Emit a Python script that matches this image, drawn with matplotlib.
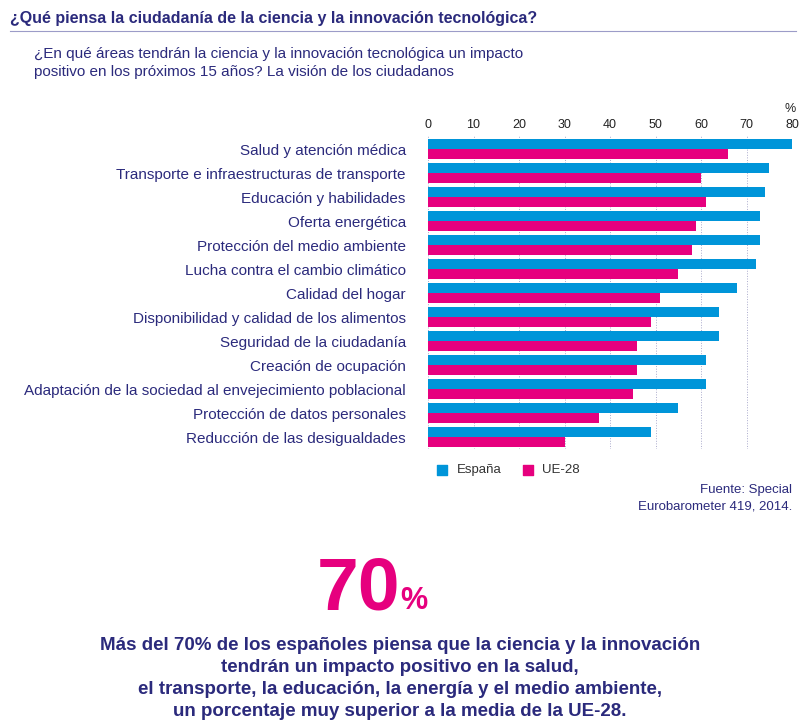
import numpy as np
import matplotlib
matplotlib.use('Agg')
import matplotlib.pyplot as plt

plt.rcParams['font.family'] = ['Liberation Sans', 'DejaVu Sans']

areas = ['Salud y atención médica', 'Transporte e infraestructuras de transporte',
         'Educación y habilidades', 'Oferta energética', 'Protección del medio ambiente',
         'Lucha contra el cambio climático', 'Calidad del hogar',
         'Disponibilidad y calidad de los alimentos', 'Seguridad de la ciudadanía',
         'Creación de ocupación', 'Adaptación de la sociedad al envejecimiento poblacional',
         'Protección de datos personales', 'Reducción de las desigualdades']
espana = [80, 75, 74, 73, 73, 72, 68, 64, 64, 61, 61, 55, 49]
ue28 = [66, 60, 61, 59, 58, 55, 51, 49, 46, 46, 45, 37.5, 30]

blue = '#0095d9'
pink = '#e6007e'
navy = '#2b2a7c'

fig = plt.figure(figsize=(8, 7.28), dpi=100)
fig.text(0.012, 0.975, '¿Qué piensa la ciudadanía de la ciencia y la innovación tecnológica?',
         fontsize=11.5, fontweight='bold', color=navy, va='center')
fig.add_artist(plt.Line2D([0.012, 0.995], [0.958, 0.958], color='#9c9cc8', lw=0.8))
fig.text(0.042, 0.935, '¿En qué áreas tendrán la ciencia y la innovación tecnológica un impacto\n'
         'positivo en los próximos 15 años? La visión de los ciudadanos',
         fontsize=11, color=navy, va='top', linespacing=1.35)

ax = fig.add_axes([0.535, 0.383, 0.455, 0.43])
y = np.arange(len(areas))
h = 0.42
ax.barh(y - h / 2, espana, height=h, color=blue, zorder=3)
ax.barh(y + h / 2, ue28, height=h, color=pink, zorder=3)
ax.set_ylim(len(areas) - 0.5, -0.55)
ax.set_xlim(0, 80)
ax.set_xticks(range(0, 81, 10))
ax.xaxis.tick_top()
ax.tick_params(axis='x', length=0, labelsize=9, colors='#222222', pad=4)
ax.set_yticks(y)
ax.set_yticklabels(areas, fontsize=11, color=navy)
ax.tick_params(axis='y', length=0, pad=16)
ax.grid(axis='x', color='#aaaacc', ls=':', lw=0.7, zorder=0)
for s in ax.spines.values():
    s.set_visible(False)
ax.text(79.5, -1.55, '%', fontsize=9, ha='center', color='#222222')

ax.scatter([], [], marker='s', s=50, color=blue, label='España')
ax.scatter([], [], marker='s', s=50, color=pink, label='UE-28')
ax.legend(loc='upper left', bbox_to_anchor=(-0.03, -0.01), ncol=2, frameon=False,
          fontsize=9.5, handletextpad=0.1, columnspacing=1.0,
          labelcolor='#333333')

fig.text(0.99, 0.335, 'Fuente: Special\nEurobarometer 419, 2014.', fontsize=9.5,
         color=navy, ha='right', va='top', linespacing=1.5)

fig.text(0.5, 0.19, '70', fontsize=54, fontweight='bold', color=pink, ha='right', va='center')
fig.text(0.5, 0.175, '%', fontsize=22, fontweight='bold', color=pink, ha='left', va='center')
fig.text(0.5, 0.068, 'Más del 70% de los españoles piensa que la ciencia y la innovación\n'
         'tendrán un impacto positivo en la salud,\n'
         'el transporte, la educación, la energía y el medio ambiente,\n'
         'un porcentaje muy superior a la media de la UE-28.',
         fontsize=13.5, fontweight='bold', color=navy, ha='center', va='center',
         linespacing=1.4)

fig.savefig('out.png', dpi=100)
